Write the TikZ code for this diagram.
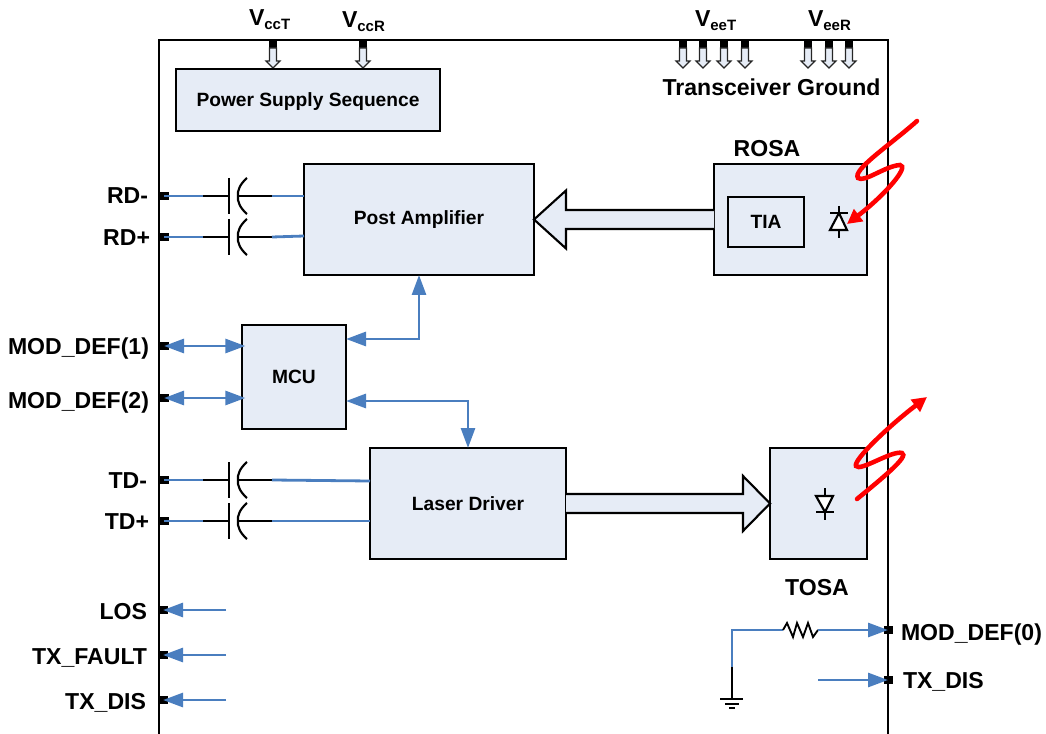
\documentclass[tikz,border=0pt]{standalone}
\usepackage{fontspec}
\setmainfont{Liberation Sans}
\usetikzlibrary{arrows.meta,calc}
\definecolor{boxfill}{HTML}{E6ECF6}
\definecolor{wire}{HTML}{4A7EBF}
\definecolor{lightred}{HTML}{FF0000}
\def\u{0.75pt}
\tikzset{
  x=0.75pt,y=-0.75pt,
  box/.style={draw=black,fill=boxfill,line width=1.6pt,inner sep=0pt,outer sep=0pt,align=center,
    font=\fontsize{14.4pt}{17pt}\selectfont\bfseries},
  lbl/.style={inner sep=0pt,outer sep=0pt,font=\fontsize{17.3pt}{20pt}\selectfont\bfseries},
  pinmark/.style={fill=black,inner sep=0pt,outer sep=0pt,minimum width=9*\u,minimum height=8*\u},
  bluewire/.style={draw=wire,line width=2.1pt},
  blacksym/.style={draw=black,line width=1.6pt},
  blockarrow/.style={draw=black,fill=boxfill,line width=1.6pt,line join=miter},
  smallarrow/.style={draw=black!85,fill=boxfill,line width=0.9pt,line join=miter},
  redwave/.style={draw=lightred,line width=3.4pt,line cap=round},
}
\newcommand{\subs}[1]{\raisebox{-3pt}{\fontsize{11.25pt}{12pt}\selectfont\bfseries #1}}
% capacitor on a line: pin node, y of line, box node, y at the box
\newcommand{\capline}[4]{%
  \coordinate (k1) at (203,#2);
  \coordinate (k2) at (229,#2);
  \coordinate (k3) at (238,#2);
  \coordinate (k4) at (272,#2);
  \draw[bluewire] (#1.center) -- (k1);
  \draw[blacksym] (k1) -- (k2);
  \draw[blacksym] (229,#2-18) -- (229,#2+18);
  \draw[blacksym] (247,#2-18) .. controls (240,#2-12) and (237,#2-5) .. (k3) .. controls (237,#2+5) and (240,#2+12) .. (247,#2+18);
  \draw[blacksym] (k3) -- (k4);
  \draw[bluewire] (k4) -- (#3.west |- 0,#4);
}
\begin{document}
\begin{tikzpicture}
\useasboundingbox (0,0) rectangle (1046,734);
% frame
\coordinate (fa) at (159,734);
\coordinate (fb) at (159,40);
\coordinate (fc) at (888,40);
\coordinate (fd) at (888,734);
\draw[black,line width=1.8pt,line join=miter] (fa) -- (fb) -- (fc) -- (fd);

% power pins
\foreach \n/\xx in {a/273,b/363,c/683,d/703,e/724,f/745,g/808,h/829,i/849}{
  \node[pinmark,minimum width=8*\u] (p\n) at (\xx,44) {};
  \draw[smallarrow] ($(p\n.south)+(-3.5,0)$) -- ($(p\n.south)+(3.5,0)$) -- ($(p\n.south)+(3.5,13)$) -- ($(p\n.south)+(7,13)$) -- ($(p\n.south)+(0,20)$) -- ($(p\n.south)+(-7,13)$) -- ($(p\n.south)+(-3.5,13)$) -- cycle;
}
\node[lbl,anchor=base west] (vcct) at (249,26) {V\subs{ccT}};
\node[lbl,anchor=base west] (vccr) at (342,28) {V\subs{ccR}};
\node[lbl,anchor=base west] (veet) at (695,27) {V\subs{eeT}};
\node[lbl,anchor=base west] (veer) at (808,27) {V\subs{eeR}};
\node[lbl,anchor=base] (tg) at (771.5,96) {Transceiver Ground};
\node[lbl,anchor=base] (rosal) at (767,157) {ROSA};
\node[lbl,anchor=base] (tosal) at (817,595) {TOSA};

% boxes
\node[box,line width=1.2pt,minimum width=264*\u,minimum height=62*\u,text height=10.5pt,text depth=0pt] (psu) at (308,100) {Power Supply Sequence};
\node[box,minimum width=230*\u,minimum height=111*\u,text height=8.25pt,text depth=0pt] (pa) at (419,219.5) {Post Amplifier};
\node[box,minimum width=153*\u,minimum height=111*\u] (rosa) at (790.5,219.5) {};
\node[box,minimum width=76*\u,minimum height=50*\u,text height=10.5pt,text depth=0pt] (tia) at (766,222) {TIA};
\node[box,line width=1.2pt,minimum width=104*\u,minimum height=104*\u,text height=9pt,text depth=0pt] (mcu) at (294,377) {MCU};
\node[box,minimum width=196*\u,minimum height=111*\u,text height=9.75pt,text depth=0pt] (ld) at (468,503.5) {Laser Driver};
\node[box,minimum width=97*\u,minimum height=111*\u] (tosa) at (818.5,503.5) {};

% block arrows
\draw[blockarrow] (rosa.west |- 0,210) -- ($(pa.east)+(32,-9.5)$) -- ($(pa.east)+(32,-29)$) -- (pa.east) -- ($(pa.east)+(32,29)$) -- ($(pa.east)+(32,9.5)$) -- (rosa.west |- 0,229);
\draw[blockarrow] (ld.east |- 0,494) -- ($(tosa.west)+(-27,-9.5)$) -- ($(tosa.west)+(-27,-27.5)$) -- (tosa.west) -- ($(tosa.west)+(-27,27.5)$) -- ($(tosa.west)+(-27,9.5)$) -- (ld.east |- 0,513);

% diodes
\draw[blacksym,fill=white,line join=miter] (839,213) -- (847,230) -- (830,230) -- cycle;
\draw[blacksym] (839,206) -- (839,213) (830,213) -- (848,213) (839,230) -- (839,238);
\draw[blacksym,fill=white,line join=miter] (825,512) -- (816,496) -- (833,496) -- cycle;
\draw[blacksym] (825,488) -- (825,496) (816,512) -- (834,512) (825,512) -- (825,520);

% left pins and labels
\foreach \n/\yy in {rdm/196,rdp/237,mda/346,mdb/398,tdm/480,tdp/521}{
  \node[pinmark] (\n) at (164,\yy) {};
}
\foreach \n/\yy in {los/610,txf/655,txd/700}{
  \node[pinmark] (\n) at (163,\yy) {};
}
\node[lbl,anchor=base east] (lrdm) at (148,204) {RD-};
\node[lbl,anchor=base east] (lrdp) at (150,246) {RD+};
\node[lbl,anchor=base east] (lmda) at (149,354) {MOD\_DEF(1)};
\node[lbl,anchor=base east] (lmdb) at (149,408) {MOD\_DEF(2)};
\node[lbl,anchor=base east] (ltdm) at (147,488) {TD-};
\node[lbl,anchor=base east] (ltdp) at (149,529) {TD+};
\node[lbl,anchor=base east] (llos) at (147,619) {LOS};
\node[lbl,anchor=base east] (ltxf) at (147,664) {TX\_FAULT};
\node[lbl,anchor=base east] (ltxd) at (146,709) {TX\_DIS};

% capacitor lines
\capline{rdm}{196}{pa}{196}
\capline{rdp}{237}{pa}{236}
\capline{tdm}{480}{ld}{481}
\capline{tdp}{521}{ld}{521}

% MOD_DEF arrows
\draw[bluewire,{Triangle[length=15pt,width=10.5pt]}-{Triangle[length=15pt,width=10.5pt]},wire,shorten >=-2.5pt] (mda.center) -- (mcu.west |- mda);
\draw[bluewire,{Triangle[length=15pt,width=10.5pt]}-{Triangle[length=15pt,width=10.5pt]},wire,shorten >=-2.5pt] (mdb.center) -- (mcu.west |- mdb);
% MCU links
\draw[bluewire,{Triangle[length=15pt,width=10.5pt]}-{Triangle[length=15pt,width=10.5pt]},wire,line join=miter] (mcu.east |- 0,339) -- (pa.south |- 0,339) -- (pa.south);
\draw[bluewire,{Triangle[length=15pt,width=10.5pt]}-{Triangle[length=15pt,width=10.5pt]},wire,line join=miter] (mcu.east |- 0,401) -- (ld.north |- 0,401) -- (ld.north);

% status outputs
\foreach \n/\yy in {los/610,txf/655,txd/700}{
  \coordinate (\n s) at (226,\yy);
  \draw[bluewire,-{Triangle[length=15pt,width=10.5pt]},wire] (\n s) -- (\n.center);
}

% right pins
\node[pinmark] (md0) at (888,630) {};
\node[pinmark] (txr) at (888,680) {};
\node[lbl,anchor=base west] (lmd0) at (901,640) {MOD\_DEF(0)};
\node[lbl,anchor=base west] (ltxr) at (903,688) {TX\_DIS};
\coordinate (gtop) at (732,667);
\coordinate (gcor) at (732,630);
\coordinate (r1) at (783,630);
\coordinate (r2) at (818,630);
\coordinate (gnd) at (732,699);
\coordinate (txs) at (818,680);
\draw[bluewire,line join=miter] (gtop) -- (gcor) -- (r1);
\draw[blacksym,line width=1.4pt] (r1) -- (787,623) -- (793,637) -- (797,623) -- (803,637) -- (808,623) -- (813,637) -- (r2);
\draw[bluewire,-{Triangle[length=15pt,width=10.5pt]},wire] (r2) -- (md0.center);
\draw[bluewire,-{Triangle[length=15pt,width=10.5pt]},wire] (txs) -- (txr.center);
\draw[blacksym] (gtop) -- (gnd);
\draw[blacksym] (720,699) -- (743,699) (725,704) -- (739,704) (729,708) -- (735,708);

% light
\coordinate (ra) at (917,121);
\coordinate (rb) at (847,224);
\draw[redwave,-{Triangle[length=11pt,width=11pt]}] (ra) .. controls (890,145) and (852,170) .. (858,178) .. controls (864,183) and (885,166) .. (900,165) .. controls (910,166) and (885,195) .. (rb);
\coordinate (rc) at (857,499);
\coordinate (rd) at (927,397);
\draw[redwave,-{Triangle[length=11pt,width=11pt]}] (rc) .. controls (880,480) and (910,456) .. (902,453) .. controls (892,450) and (860,472) .. (856,466) .. controls (853,460) and (890,425) .. (rd);
\end{tikzpicture}
\end{document}
